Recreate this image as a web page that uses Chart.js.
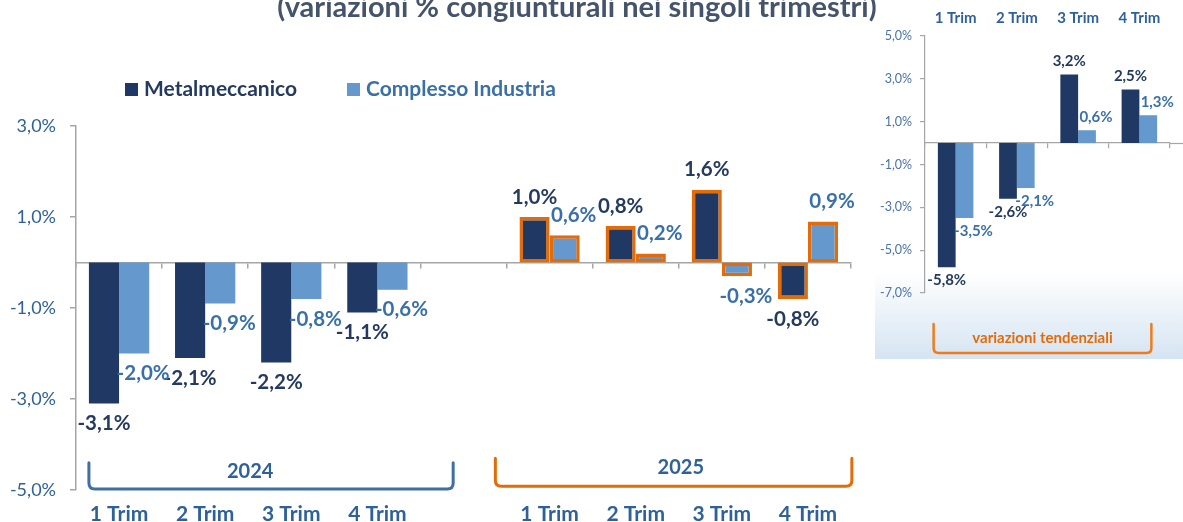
<!DOCTYPE html>
<html><head><meta charset="utf-8">
<script src="https://cdn.jsdelivr.net/npm/chart.js@4/dist/chart.umd.min.js"></script>
<style>
html,body{margin:0;padding:0;background:#fff;overflow:hidden;}
#wrap{position:relative;width:1183px;height:522px;}
#main{position:absolute;left:0;top:0;}
#inset{position:absolute;left:860px;top:0;}
</style></head><body>
<div id="wrap">
<canvas id="main" width="1183" height="522"></canvas>
<canvas id="inset" width="323" height="362"></canvas>
</div>
<script>
// ---- data ----
const categories = ['1 Trim','2 Trim','3 Trim','4 Trim','','1 Trim','2 Trim','3 Trim','4 Trim'];
const categoryYears = ['2024','2024','2024','2024','','2025','2025','2025','2025'];
const metalmeccanico = [-3.1,-2.1,-2.2,-1.1,null,1.0,0.8,1.6,-0.8];
const complessoIndustria = [-2.0,-0.9,-0.8,-0.6,null,0.6,0.2,-0.3,0.9];
const yTicks = [-5,-3,-1,1,3];

const insetCategories = ['1 Trim','2 Trim','3 Trim','4 Trim'];
const insetMetalmeccanico = [-5.8,-2.6,3.2,2.5];
const insetComplessoIndustria = [-3.5,-2.1,0.6,1.3];
const insetYTicks = [-7,-5,-3,-1,1,3,5];

const seriesNames = ['Metalmeccanico','Complesso Industria'];
const titleText = '(variazioni % congiunturali nei singoli trimestri)';
const insetNote = 'variazioni tendenziali';

// ---- styles ----
const FONT = 'Lato, "Open Sans", sans-serif';
const DARK = '#203864';
const LIGHT = '#6599cd';
const DARK_LABEL = '#243a5e';
const LIGHT_LABEL = '#3a70a8';
const AXIS_TEXT = '#2f6199';
const ORANGE = '#e36c0a';
const BLUE_BRACKET = '#3f6fa6';
const AXIS_LINE = '#a6a6a6';

const fmt = v => (v < 0 ? '-' : '') + Math.abs(v).toFixed(1).replace('.', ',') + '%';

function bracket(ctx, x1, x2, yTop, yBot, r, color, lw) {
  ctx.save();
  ctx.strokeStyle = color; ctx.lineWidth = lw; ctx.lineJoin = 'round'; ctx.lineCap = 'round';
  ctx.beginPath();
  ctx.moveTo(x1, yTop);
  ctx.lineTo(x1, yBot - r);
  ctx.quadraticCurveTo(x1, yBot, x1 + r, yBot);
  ctx.lineTo(x2 - r, yBot);
  ctx.quadraticCurveTo(x2, yBot, x2, yBot - r);
  ctx.lineTo(x2, yTop);
  ctx.stroke();
  ctx.restore();
}

const barLabels = {
  id: 'barLabels',
  afterDatasetsDraw(chart, args, opts) {
    const ctx = chart.ctx;
    ctx.save();
    ctx.font = opts.font;
    ctx.textAlign = 'center';
    ctx.textBaseline = 'middle';
    chart.data.datasets.forEach((ds, di) => {
      const meta = chart.getDatasetMeta(di);
      meta.data.forEach((bar, i) => {
        const v = ds.data[i];
        if (v === null || v === undefined) return;
        ctx.fillStyle = ds.labelColor;
        const dy = v >= 0 ? -opts.offset : opts.offset;
        ctx.fillText(fmt(v), bar.x + (ds.labelShift || 0), bar.y + dy);
      });
    });
    ctx.restore();
  }
};

const mainDecor = {
  id: 'mainDecor',
  afterDraw(chart) {
    const ctx = chart.ctx;
    const xs = chart.scales.x, ys = chart.scales.y;
    // title
    ctx.save();
    ctx.font = 'bold 29px ' + FONT;
    ctx.fillStyle = '#44546a';
    ctx.textAlign = 'center';
    ctx.textBaseline = 'alphabetic';
    ctx.fillText(titleText, 577, 17);
    // legend
    ctx.font = 'bold 21px ' + FONT;
    ctx.textAlign = 'left';
    ctx.textBaseline = 'middle';
    const items = [[seriesNames[0], DARK, DARK_LABEL, 125], [seriesNames[1], LIGHT, LIGHT_LABEL, 347]];
    items.forEach(([name, col, tcol, x]) => {
      ctx.fillStyle = col;
      ctx.fillRect(x, 83, 13, 13);
      ctx.fillStyle = tcol;
      ctx.fillText(name, x + 19, 89);
    });
    // year brackets
    const step = xs.getPixelForValue(1) - xs.getPixelForValue(0);
    const groups = {};
    categoryYears.forEach((y, i) => { if (!y) return; (groups[y] = groups[y] || []).push(i); });
    Object.keys(groups).forEach((year, gi) => {
      const idx = groups[year];
      const first = idx[0], last = idx[idx.length - 1];
      let x1, x2, yTop, yBot, color, ly;
      if (gi === 0) {
        x1 = xs.getPixelForValue(first) - step * 0.35;
        x2 = xs.getPixelForValue(last) + step * 0.88;
        yTop = ys.getPixelForValue(-4.4); yBot = ys.getPixelForValue(-4.98);
        color = BLUE_BRACKET; ly = ys.getPixelForValue(-4.6);
      } else {
        x1 = xs.getPixelForValue(first) - step * 0.63;
        x2 = xs.getPixelForValue(last) + step * 0.51;
        yTop = ys.getPixelForValue(-4.3); yBot = ys.getPixelForValue(-4.92);
        color = ORANGE; ly = ys.getPixelForValue(-4.5);
      }
      bracket(ctx, x1, x2, yTop, yBot, 6, color, 3);
      ctx.font = 'bold 20px ' + FONT;
      ctx.fillStyle = AXIS_TEXT;
      ctx.textAlign = 'center';
      ctx.fillText(year, (xs.getPixelForValue(first) + xs.getPixelForValue(last)) / 2 + 2, ly);
    });
    ctx.restore();
  }
};

new Chart(document.getElementById('main'), {
  type: 'bar',
  data: {
    labels: categories,
    datasets: [
      {
        label: seriesNames[0], data: metalmeccanico, backgroundColor: DARK,
        borderColor: c => categoryYears[c.dataIndex] === '2025' ? ORANGE : DARK,
        borderWidth: c => categoryYears[c.dataIndex] === '2025' ? 3.5 : 0,
        borderSkipped: false, labelColor: DARK_LABEL, labelShift: 0,
        categoryPercentage: 0.7, barPercentage: 1.0
      },
      {
        label: seriesNames[1], data: complessoIndustria, backgroundColor: LIGHT,
        borderColor: c => categoryYears[c.dataIndex] === '2025' ? ORANGE : LIGHT,
        borderWidth: c => categoryYears[c.dataIndex] === '2025' ? 3.5 : 0,
        borderSkipped: false, labelColor: LIGHT_LABEL, labelShift: 9,
        categoryPercentage: 0.7, barPercentage: 1.0
      }
    ]
  },
  options: {
    responsive: false, animation: false, devicePixelRatio: 1,
    layout: { padding: { top: 126, right: 332, left: 0, bottom: 0 } },
    plugins: {
      legend: { display: false }, title: { display: false }, tooltip: { enabled: false },
      barLabels: { font: 'bold 20.5px ' + FONT, offset: 20 }
    },
    scales: {
      x: {
        type: 'category', position: 'bottom', offset: true,
        grid: { display: false, drawTicks: false }, border: { display: false },
        ticks: { color: AXIS_TEXT, font: { family: FONT, size: 21, weight: 'bold' }, padding: 12, maxRotation: 0, autoSkip: false },
        afterFit: s => { s.height = 32; }
      },
      x2: {
        type: 'category', axis: 'x', position: { y: 0 }, offset: true,
        grid: { offset: true, drawOnChartArea: false, drawTicks: true, tickLength: 5, color: AXIS_LINE, lineWidth: 1.5 },
        border: { display: true, color: AXIS_LINE, width: 1.5 },
        ticks: { display: false }
      },
      y: {
        type: 'linear', min: -5, max: 3,
        afterBuildTicks: s => { s.ticks = yTicks.map(v => ({ value: v })); },
        grid: { drawOnChartArea: false, drawTicks: true, tickLength: 6, color: AXIS_LINE, lineWidth: 1.5 },
        border: { display: true, color: AXIS_LINE, width: 1.5 },
        ticks: { color: AXIS_TEXT, font: { family: FONT, size: 18 }, padding: 14, callback: v => fmt(v) },
        afterFit: s => { s.width = 76; }
      }
    }
  },
  plugins: [barLabels, mainDecor]
});

// ---- inset chart ----
const insetDecor = {
  id: 'insetDecor',
  beforeDraw(chart) {
    const ctx = chart.ctx;
    ctx.save();
    const g = ctx.createLinearGradient(0, 272, 0, 359);
    g.addColorStop(0, 'rgba(255,255,255,1)');
    g.addColorStop(1, '#d5e4f2');
    ctx.fillStyle = g;
    ctx.fillRect(15, 272, 308, 87);
    ctx.restore();
  },
  afterDraw(chart) {
    const ctx = chart.ctx;
    const xs = chart.scales.x, ys = chart.scales.y, a = chart.chartArea;
    // axis line continues to the edge
    ctx.save();
    ctx.strokeStyle = AXIS_LINE; ctx.lineWidth = 1.2;
    const y0 = Math.round(ys.getPixelForValue(0)) + 0.5;
    ctx.beginPath(); ctx.moveTo(a.right, y0); ctx.lineTo(chart.width, y0); ctx.stroke();
    ctx.restore();
    const x1 = xs.getPixelForValue(0) - 22, x2 = xs.getPixelForValue(insetCategories.length - 1) + 12;
    bracket(ctx, x1, x2, a.bottom + 31, a.bottom + 60, 5, '#f07b1c', 2.5);
    ctx.save();
    ctx.font = 'bold 15px ' + FONT;
    ctx.fillStyle = ORANGE;
    ctx.textAlign = 'center'; ctx.textBaseline = 'middle';
    ctx.fillText(insetNote, (x1 + x2) / 2, a.bottom + 45);
    ctx.restore();
  }
};

new Chart(document.getElementById('inset'), {
  type: 'bar',
  data: {
    labels: insetCategories,
    datasets: [
      { label: seriesNames[0], data: insetMetalmeccanico, backgroundColor: DARK, labelColor: DARK_LABEL, labelShift: 0,
        categoryPercentage: 0.58, barPercentage: 1.0 },
      { label: seriesNames[1], data: insetComplessoIndustria, backgroundColor: LIGHT, labelColor: LIGHT_LABEL, labelShift: 9,
        categoryPercentage: 0.58, barPercentage: 1.0 }
    ]
  },
  options: {
    responsive: false, animation: false, devicePixelRatio: 1,
    layout: { padding: { top: 0, right: 13, left: 0, bottom: 69 } },
    plugins: {
      legend: { display: false }, title: { display: false }, tooltip: { enabled: false },
      barLabels: { font: 'bold 15px ' + FONT, offset: 13 }
    },
    scales: {
      x: {
        type: 'category', position: 'top', offset: true,
        grid: { display: false, drawTicks: false }, border: { display: false },
        ticks: { color: AXIS_TEXT, font: { family: FONT, size: 15, weight: 'bold' }, padding: 9, maxRotation: 0, autoSkip: false },
        afterFit: s => { s.height = 36; }
      },
      x2: {
        type: 'category', axis: 'x', position: { y: 0 }, offset: true,
        grid: { offset: true, drawOnChartArea: false, drawTicks: true, tickLength: 5, color: AXIS_LINE, lineWidth: 1.2 },
        border: { display: true, color: AXIS_LINE, width: 1.2 },
        ticks: { display: false }
      },
      y: {
        type: 'linear', min: -7, max: 5,
        afterBuildTicks: s => { s.ticks = insetYTicks.map(v => ({ value: v })); },
        grid: { drawOnChartArea: false, drawTicks: true, tickLength: 5, color: AXIS_LINE, lineWidth: 1.2 },
        border: { display: true, color: AXIS_LINE, width: 1.2 },
        ticks: { color: '#4a72a8', font: { family: FONT, size: 12.5 }, padding: 8, callback: v => fmt(v) },
        afterFit: s => { s.width = 65; }
      }
    }
  },
  plugins: [barLabels, insetDecor]
});
</script>
</body></html>
